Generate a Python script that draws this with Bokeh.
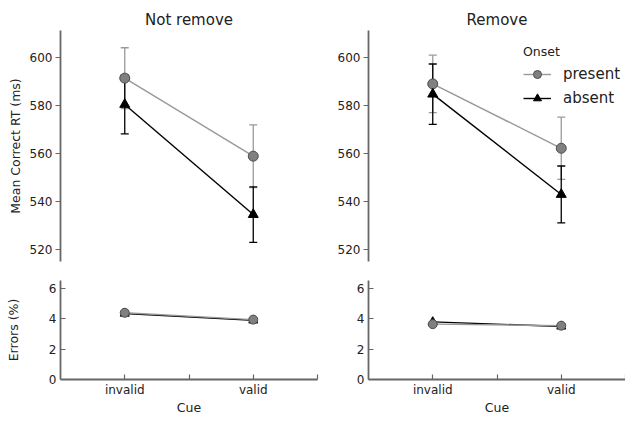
from bokeh.plotting import figure
from bokeh.layouts import column, row
from bokeh.models import ColumnDataSource, Whisker, TeeHead, FixedTicker, Legend, LegendItem
from bokeh.embed import file_html
from bokeh.resources import INLINE

# ---------------- data ----------------
cues = ["invalid", "valid"]
onsets = ["present", "absent"]

not_remove_rt_present = [591.4, 558.8]
not_remove_rt_present_ci = [12.7, 13.1]
not_remove_rt_absent = [580.4, 534.4]
not_remove_rt_absent_ci = [12.3, 11.6]

remove_rt_present = [589.0, 562.1]
remove_rt_present_ci = [12.0, 13.0]
remove_rt_absent = [584.7, 542.8]
remove_rt_absent_ci = [12.6, 11.9]

not_remove_err_present = [4.40, 3.95]
not_remove_err_absent = [4.35, 3.90]
remove_err_present = [3.65, 3.55]
remove_err_absent = [3.80, 3.50]

rt_ticks = [520, 540, 560, 580, 600]
err_ticks = [0, 2, 4, 6]

# ---------------- style ----------------
FONT = "DejaVu Sans"
AXIS_C = "#666666"
TEXT_C = "#222222"
PRES_LINE = "#999999"
PRES_FILL = "#808080"
PRES_EDGE = "#4d4d4d"
ABS_C = "#000000"

FRAME_W = 257
TOP_H, BOT_H = 267, 150
TOP_BT, TOP_BB = 30, 6
BOT_BT, BOT_BB = 13, 36
L_LEFT, L_RIGHT = 60, 3
R_LEFT, R_RIGHT = 48, 0

xs = list(range(len(cues)))
x_ticks = [0, 0.5, 1, 1.5]
x_overrides = {0: cues[0], 0.5: "", 1: cues[1], 1.5: ""}


def style_axis(ax):
    ax.axis_line_color = AXIS_C
    ax.axis_line_width = 1.8
    ax.major_tick_line_color = AXIS_C
    ax.major_tick_line_width = 1.2
    ax.minor_tick_line_color = None
    ax.major_label_text_font = FONT
    ax.major_label_text_font_size = "12px"
    ax.major_label_text_color = TEXT_C
    ax.axis_label_text_font = FONT
    ax.axis_label_text_font_size = "12.5px"
    ax.axis_label_text_font_style = "normal"
    ax.axis_label_text_color = TEXT_C


def base_fig(width, height, yr, bl, br, bt, bb, x_axis=True, title=None):
    p = figure(width=width, height=height, x_range=(-0.5, 1.5), y_range=yr,
               output_backend="svg", toolbar_location=None, title=title,
               x_axis_location="below" if x_axis else None,
               min_border_left=bl, min_border_right=br,
               min_border_top=bt, min_border_bottom=bb)
    p.outline_line_color = None
    p.xgrid.visible = False
    p.ygrid.visible = False
    p.background_fill_color = None
    p.border_fill_color = "white"
    if title:
        p.title.text_font = FONT
        p.title.text_font_size = "15px"
        p.title.text_font_style = "normal"
        p.title.text_color = TEXT_C
        p.title.align = "center"
        p.title.standoff = 3
    return p


def add_series(p, ys, ci, line_c, fill_c, edge_c, marker, size):
    data = dict(x=xs, y=ys)
    if ci is not None:
        data["upper"] = [v + e for v, e in zip(ys, ci)]
        data["lower"] = [v - e for v, e in zip(ys, ci)]
    src = ColumnDataSource(data)
    if ci is not None:
        w = Whisker(source=src, base="x", upper="upper", lower="lower",
                    dimension="height", line_color=line_c, line_width=1.3,
                    upper_head=TeeHead(size=8, line_color=line_c, line_width=1.3),
                    lower_head=TeeHead(size=8, line_color=line_c, line_width=1.3))
        p.add_layout(w)
    ln = p.line("x", "y", source=src, line_color=line_c, line_width=1.4)
    sc = p.scatter("x", "y", source=src, marker=marker, size=size,
                   fill_color=fill_c, line_color=edge_c, line_width=1)
    return ln, sc


def top_panel(title, pres, pres_ci, absn, absn_ci, bl, br, ylabel=None):
    width = bl + FRAME_W + br
    p = base_fig(width, TOP_H, (514.8, 611.3), bl, br, TOP_BT, TOP_BB,
                 x_axis=False, title=title)
    p.yaxis.ticker = FixedTicker(ticks=rt_ticks)
    style_axis(p.yaxis[0])
    p.yaxis.major_tick_out = 5
    p.yaxis.major_tick_in = 0
    p.yaxis.major_label_standoff = 3
    if ylabel:
        p.yaxis.axis_label = ylabel
        p.yaxis.axis_label_standoff = 4
    r_p = add_series(p, pres, pres_ci, PRES_LINE, PRES_FILL, PRES_EDGE, "circle", 10)
    r_a = add_series(p, absn, absn_ci, ABS_C, ABS_C, ABS_C, "triangle", 10)
    return p, r_p, r_a


def bottom_panel(pres, absn, bl, br, ylabel=None):
    width = bl + FRAME_W + br
    p = base_fig(width, BOT_H, (0, 6.53), bl, br, BOT_BT, BOT_BB, x_axis=True)
    p.yaxis.ticker = FixedTicker(ticks=err_ticks)
    p.xaxis.ticker = FixedTicker(ticks=x_ticks)
    p.xaxis.major_label_overrides = x_overrides
    for ax in (p.xaxis[0], p.yaxis[0]):
        style_axis(ax)
        ax.major_tick_in = 5
        ax.major_tick_out = 0
    p.yaxis.major_label_standoff = 4
    p.xaxis.major_label_standoff = 3
    p.xaxis.axis_label = "Cue"
    p.xaxis.axis_label_standoff = 0
    if ylabel:
        p.yaxis.axis_label = ylabel
        p.yaxis.axis_label_standoff = 25
    add_series(p, absn, None, ABS_C, ABS_C, ABS_C, "triangle", 9)
    add_series(p, pres, None, PRES_LINE, PRES_FILL, PRES_EDGE, "circle", 9)
    return p


p1, _, _ = top_panel("Not remove", not_remove_rt_present, not_remove_rt_present_ci,
                     not_remove_rt_absent, not_remove_rt_absent_ci, L_LEFT, L_RIGHT,
                     ylabel="Mean Correct RT (ms)")
p2, rp, ra = top_panel("Remove", remove_rt_present, remove_rt_present_ci,
                       remove_rt_absent, remove_rt_absent_ci, R_LEFT, R_RIGHT)

legend = Legend(items=[LegendItem(label=onsets[0], renderers=list(rp)),
                       LegendItem(label=onsets[1], renderers=list(ra))],
                location=(155, 153), title="Onset")
legend.title_text_font = FONT
legend.title_text_font_size = "12.5px"
legend.title_text_font_style = "normal"
legend.title_text_color = TEXT_C
legend.title_standoff = 5
legend.label_text_font = FONT
legend.label_text_font_size = "15px"
legend.label_text_color = TEXT_C
legend.glyph_width = 28
legend.label_standoff = 12
legend.spacing = 4
legend.padding = 2
legend.margin = 0
legend.border_line_color = None
legend.background_fill_alpha = 0
p2.add_layout(legend)

p3 = bottom_panel(not_remove_err_present, not_remove_err_absent, L_LEFT, L_RIGHT,
                  ylabel="Errors (%)")
p4 = bottom_panel(remove_err_present, remove_err_absent, R_LEFT, R_RIGHT)

layout = column(row(p1, p2), row(p3, p4))

open("out.html", "w").write(file_html(layout, INLINE))
